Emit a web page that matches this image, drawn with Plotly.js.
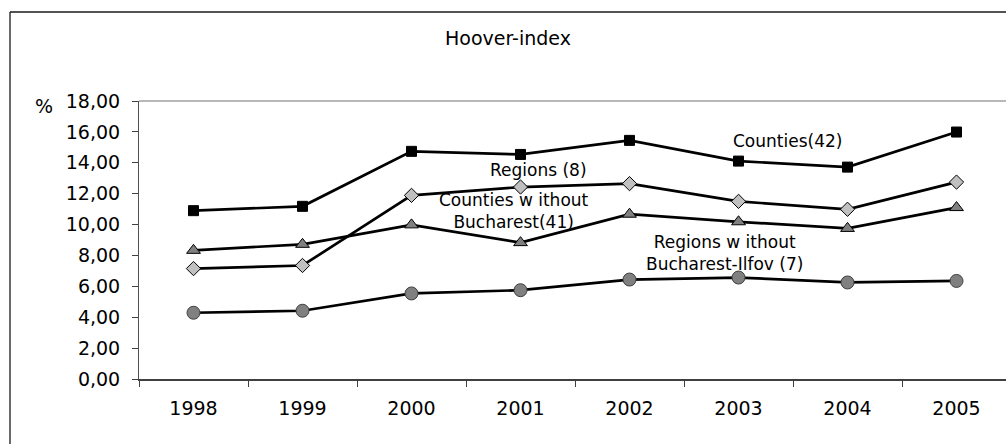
<!DOCTYPE html>
<html>
<head>
<meta charset="utf-8">
<script src="https://cdn.plot.ly/plotly-3.0.1.min.js"></script>
<style>html,body{margin:0;padding:0;background:#fff;}#chart{width:1006px;height:444px;}</style>
</head>
<body>
<div id="chart"></div>
<script>
const years = ["1998", "1999", "2000", "2001", "2002", "2003", "2004", "2005"];
const counties42 = [10.90, 11.18, 14.74, 14.54, 15.45, 14.11, 13.72, 15.99];
const regions8 = [7.15, 7.35, 11.89, 12.43, 12.65, 11.50, 10.99, 12.75];
const countiesNoBuc41 = [8.33, 8.72, 9.98, 8.83, 10.67, 10.18, 9.75, 11.10];
const regionsNoBucIlfov7 = [4.29, 4.42, 5.54, 5.75, 6.44, 6.57, 6.25, 6.35];
const yTicks = [0, 2, 4, 6, 8, 10, 12, 14, 16, 18];

const FONT = "DejaVu Sans, Arial, sans-serif";
const L = 139, W = 867, T = 101, H = 278;
const px = x => (x - L) / W;
const py = y => (T + H - y) / H;

const lineStyle = {color: "#000000", width: 2.7};
const traces = [
  {x: years, y: counties42, name: "Counties(42)", mode: "lines+markers", line: lineStyle,
   marker: {symbol: "square", size: 10, color: "#000000", line: {color: "#000000", width: 1}}},
  {x: years, y: countiesNoBuc41, name: "Counties without Bucharest(41)", mode: "lines+markers", line: lineStyle,
   marker: {symbol: "triangle-up", size: 12, color: "#808080", line: {color: "#000000", width: 1}}},
  {x: years, y: regions8, name: "Regions (8)", mode: "lines+markers", line: lineStyle,
   marker: {symbol: "diamond", size: 11, color: "#c0c0c0", line: {color: "#000000", width: 1}}},
  {x: years, y: regionsNoBucIlfov7, name: "Regions without Bucharest-Ilfov (7)", mode: "lines+markers", line: lineStyle,
   marker: {symbol: "circle", size: 13, color: "#808080", line: {color: "#404040", width: 1}}}
];

const annFont = {family: FONT, size: 17, color: "#000000"};
const layout = {
  width: 1006, height: 444,
  margin: {l: L, r: 0, t: T, b: 444 - T - H, pad: 0},
  paper_bgcolor: "#ffffff", plot_bgcolor: "#ffffff",
  showlegend: false,
  separators: ",.",
  font: {family: FONT, size: 19, color: "#000000"},
  title: {text: "Hoover-index", font: {family: FONT, size: 19, color: "#000000"},
          xref: "paper", x: px(508), xanchor: "center", yref: "container", y: 1 - 38 / 444, yanchor: "middle"},
  xaxis: {type: "category", categoryorder: "array", categoryarray: years,
          range: [-0.5, 7.454], tickson: "boundaries", ticks: "outside", ticklen: 6, tickwidth: 1, tickcolor: "#404040",
          showline: true, linecolor: "#404040", linewidth: 2, showgrid: false, zeroline: false,
          ticklabelstandoff: 11, tickfont: {family: FONT, size: 19, color: "#000000"}, fixedrange: true},
  yaxis: {range: [0, 18], tickvals: yTicks, tickformat: ".2f", ticks: "outside", ticklen: 6, tickwidth: 1,
          tickcolor: "#404040", showline: true, linecolor: "#505050", linewidth: 1, showgrid: false, zeroline: false,
          ticklabelstandoff: 8, tickfont: {family: FONT, size: 19, color: "#000000"}, fixedrange: true},
  shapes: [
    {type: "line", xref: "paper", yref: "paper", x0: 0, x1: 1.01, y0: 1, y1: 1, line: {color: "#a0a0a0", width: 1.5}},
    {type: "line", xref: "paper", yref: "paper", x0: px(10), x1: 1.01, y0: py(12), y1: py(12), line: {color: "#1a1a1a", width: 1.3}},
    {type: "line", xref: "paper", yref: "paper", x0: px(10), x1: px(10), y0: py(12), y1: py(450), line: {color: "#1a1a1a", width: 1.3}}
  ],
  annotations: [
    {text: "%", xref: "paper", yref: "paper", x: px(44), y: py(106), xanchor: "center", yanchor: "middle", showarrow: false,
     font: {family: FONT, size: 19, color: "#000000"}},
    {text: "Counties(42)", xref: "paper", yref: "paper", x: px(787), y: py(141), xanchor: "center", yanchor: "middle", showarrow: false, font: annFont},
    {text: "Regions (8)", xref: "paper", yref: "paper", x: px(538), y: py(170), xanchor: "center", yanchor: "middle", showarrow: false, font: annFont},
    {text: "Counties w ithout<br>Bucharest(41)", xref: "paper", yref: "paper", x: px(514), y: py(211), xanchor: "center", yanchor: "middle", showarrow: false, font: annFont},
    {text: "Regions w ithout<br>Bucharest-Ilfov (7)", xref: "paper", yref: "paper", x: px(724), y: py(253), xanchor: "center", yanchor: "middle", showarrow: false, font: annFont}
  ]
};

Plotly.newPlot("chart", traces, layout, {staticPlot: true, displayModeBar: false});
</script>
</body>
</html>
